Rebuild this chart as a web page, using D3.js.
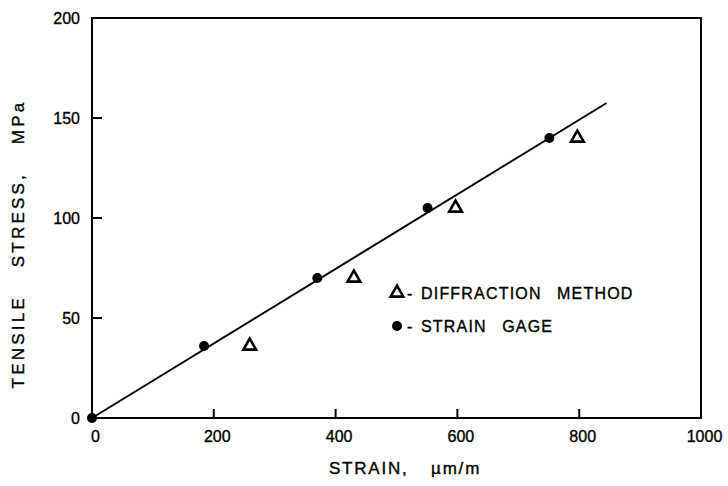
<!DOCTYPE html>
<html>
<head>
<meta charset="utf-8">
<script src="https://cdn.jsdelivr.net/npm/d3@7"></script>
<style>
  html, body { margin: 0; padding: 0; background: #fff; }
  svg { display: block; }
  text { font-family: "Liberation Sans", Arial, Helvetica, sans-serif; fill: #000; stroke: #000; stroke-width: 0.35px; }
</style>
</head>
<body>
<svg id="chart" width="728" height="486"></svg>
<script>
// ---- data ----
const xTicks = [0, 200, 400, 600, 800, 1000];
const yTicks = [0, 50, 100, 150, 200];
const gageStrain = [0, 184, 370, 551, 751];
const gageStress = [0, 36, 70, 105, 140];
const diffStrain = [259, 430, 597, 797];
const diffStress = [36, 70, 105, 140];
const fitStrain = [0, 845];
const fitStress = [0, 157.5];
const legendLabels = ["DIFFRACTION  METHOD", "STRAIN  GAGE"];

const svg = d3.select("#chart");
const x = d3.scaleLinear().domain([0, 1000]).range([92, 701]);
const y = d3.scaleLinear().domain([0, 200]).range([418, 18]);

// frame
svg.append("rect")
  .attr("x", x(0)).attr("y", y(200))
  .attr("width", x(1000) - x(0)).attr("height", y(0) - y(200))
  .attr("fill", "none").attr("stroke", "#000").attr("stroke-width", 2);

// axes (ticks inside)
const xAxis = d3.axisBottom(x).tickValues(xTicks).tickSize(0).tickPadding(0).tickFormat(d3.format("d"));
const gx = svg.append("g").attr("transform", `translate(0,${y(0)})`).call(xAxis);
gx.select(".domain").remove();
gx.selectAll("text").attr("font-size", 16).attr("dy", "1.5em").attr("dx", 3)
  .style("font-family", '"Liberation Sans", Arial, sans-serif');

const yAxis = d3.axisLeft(y).tickValues(yTicks).tickSize(0).tickPadding(12).tickFormat(d3.format("d"));
const gy = svg.append("g").attr("transform", `translate(${x(0)},0)`).call(yAxis);
gy.select(".domain").remove();
gy.selectAll("text").attr("font-size", 16).attr("dy", "0.36em")
  .style("font-family", '"Liberation Sans", Arial, sans-serif');

// inner tick marks
svg.append("g").selectAll("line").data(xTicks.filter(d => d > 0 && d < 1000)).join("line")
  .attr("x1", d => x(d)).attr("x2", d => x(d))
  .attr("y1", y(0)).attr("y2", y(0) - 9)
  .attr("stroke", "#000").attr("stroke-width", 2);
svg.append("g").selectAll("line").data(yTicks.filter(d => d > 0 && d < 200)).join("line")
  .attr("y1", d => y(d)).attr("y2", d => y(d))
  .attr("x1", x(0)).attr("x2", x(0) + 10)
  .attr("stroke", "#000").attr("stroke-width", 2);

// fit line
const line = d3.line().x(d => x(d[0])).y(d => y(d[1]));
svg.append("path")
  .datum(fitStrain.map((s, i) => [s, fitStress[i]]))
  .attr("d", line).attr("fill", "none").attr("stroke", "#000").attr("stroke-width", 2);

// strain gage dots
svg.append("g").selectAll("circle").data(gageStrain.map((s, i) => [s, gageStress[i]])).join("circle")
  .attr("cx", d => x(d[0])).attr("cy", d => y(d[1])).attr("r", 5).attr("fill", "#000");

// diffraction triangles
const tri = d3.symbol().type(d3.symbolTriangle).size(70);
svg.append("g").selectAll("path").data(diffStrain.map((s, i) => [s, diffStress[i]])).join("path")
  .attr("d", tri)
  .attr("transform", d => `translate(${x(d[0])},${y(d[1])})`)
  .attr("fill", "#fff").attr("stroke", "#000").attr("stroke-width", 2.6);

// legend
const lg = svg.append("g");
lg.append("path").attr("d", tri).attr("transform", "translate(397,293)")
  .attr("fill", "#fff").attr("stroke", "#000").attr("stroke-width", 2.6);
lg.append("circle").attr("cx", 397).attr("cy", 326).attr("r", 5).attr("fill", "#000");
lg.selectAll("text.dash").data(legendLabels).join("text").attr("class", "dash")
  .attr("x", 407).attr("y", (d, i) => 293 + i * 33).attr("dy", "0.36em")
  .attr("font-size", 16).text("-");
lg.selectAll("text.lab").data(legendLabels).join("text").attr("class", "lab")
  .attr("x", 421).attr("y", (d, i) => 293 + i * 33).attr("dy", "0.36em")
  .attr("font-size", 16).attr("letter-spacing", 1.2).attr("word-spacing", 2)
  .attr("xml:space", "preserve")
  .text(d => d);

// axis titles
svg.append("text").attr("x", 405).attr("y", 474).attr("text-anchor", "middle")
  .attr("font-size", 17).attr("letter-spacing", 1.8).attr("word-spacing", 16)
  .text("STRAIN, \u00b5m/m");

svg.append("text").attr("transform", "translate(24,244) rotate(-90)")
  .attr("text-anchor", "middle")
  .attr("font-size", 17).attr("letter-spacing", 3.2).attr("word-spacing", 20)
  .text("TENSILE STRESS, MPa");
</script>
</body>
</html>
